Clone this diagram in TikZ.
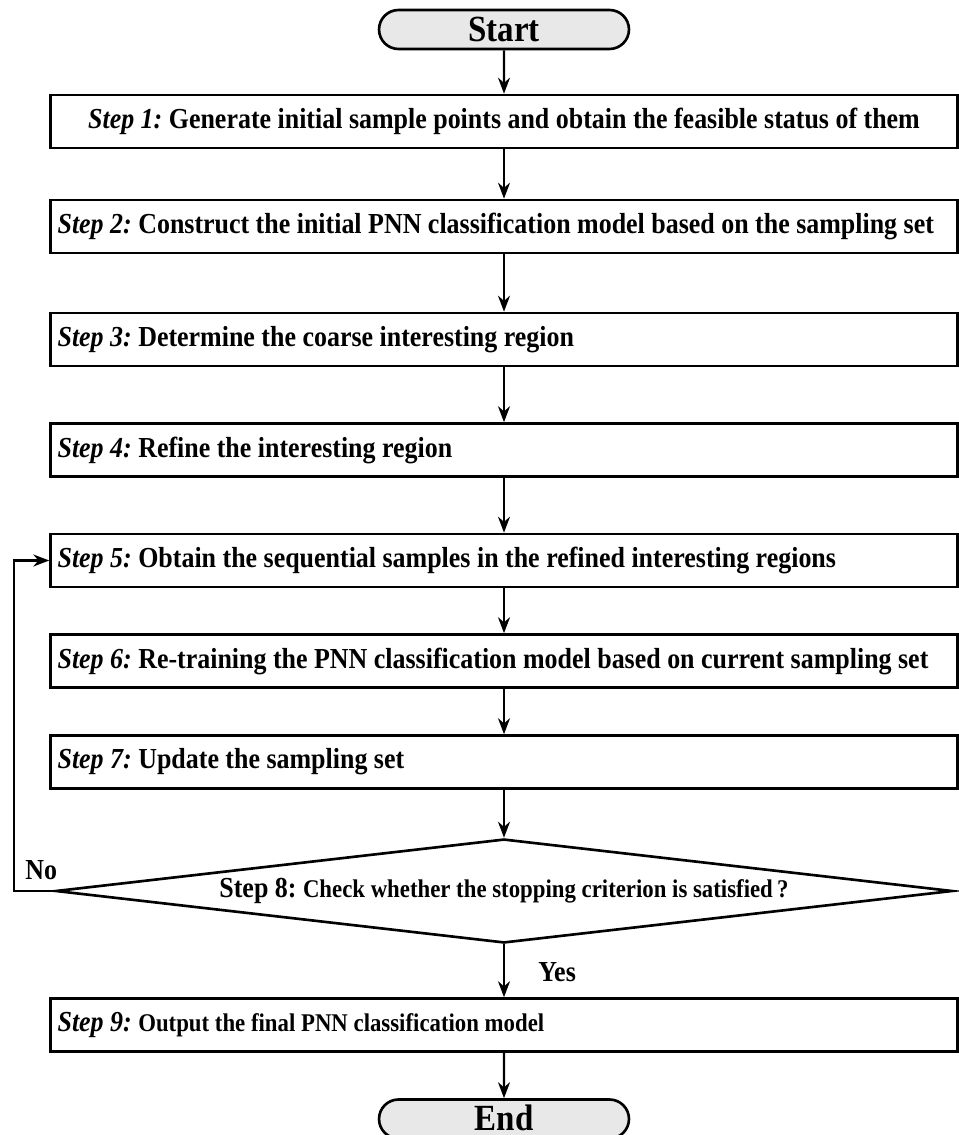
\documentclass[tikz,border=0pt]{standalone}
\usepackage{fontspec}
\setmainfont{Liberation Serif}[FakeStretch=0.895]
\frenchspacing
\usetikzlibrary{shapes.geometric,shapes.misc,arrows.meta}
\tikzstyle{stepbox}=[draw,line width=1.5pt,minimum width=18.14cm,minimum height=1.06cm,inner xsep=0.14cm,text width=17.86cm,align=flush left,font=\fontsize{16.5}{19}\selectfont\bfseries]
\tikzstyle{terminal}=[draw,line width=1.5pt,rounded rectangle,fill=gray!18,minimum width=5cm,minimum height=0.78cm,inner sep=0pt,font=\fontsize{21}{23}\selectfont\bfseries]
\tikzstyle{decision}=[draw,line width=1.5pt,diamond,aspect=8.6,minimum width=17.94cm,minimum height=2.08cm,inner sep=0pt,font=\fontsize{16.5}{19}\selectfont\bfseries]
\tikzstyle{answer}=[inner sep=0pt,font=\fontsize{16.5}{19}\selectfont\bfseries]
\tikzstyle{flow}=[-{Stealth[length=0.32cm,width=0.24cm]},line width=1.2pt]
\newcommand{\smalltxt}{\fontsize{14.5}{17}\selectfont}

\begin{document}
\begin{tikzpicture}[x=0.02cm,y=-0.02cm]
  \useasboundingbox (0,0) rectangle (958,1135);
  \node[terminal] (start) at (504,29.5) {Start};
  \node[stepbox,align=flush center] (s1) at (504,121.5) {\textit{Step 1:} Generate initial sample points and obtain the feasible status of them};
  \node[stepbox] (s2) at (504,226.5) {\textit{Step 2:} Construct the initial PNN classification model based on the sampling set};
  \node[stepbox] (s3) at (504,339.5) {\textit{Step 3:} Determine the coarse interesting region};
  \node[stepbox] (s4) at (504,450) {\textit{Step 4:} Refine the interesting region};
  \node[stepbox] (s5) at (504,560.5) {\textit{Step 5:} Obtain the sequential samples in the refined interesting regions};
  \node[stepbox] (s6) at (504,661) {\textit{Step 6:} Re-training the PNN classification model based on current sampling set};
  \node[stepbox] (s7) at (504,762) {\textit{Step 7:} Update the sampling set};
  \node[decision] (s8) at (504,891) {Step 8: {\smalltxt Check whether the stopping criterion is satisfied\,?}};
  \node[stepbox] (s9) at (504,1025) {\textit{Step 9:} {\smalltxt Output the final PNN classification model}};
  \node[terminal] (end) at (504,1119) {\raisebox{1pt}{End}};
  \coordinate (loop) at (14,891);
  \draw[flow] (start) -- (s1);
  \draw[flow] (s1) -- (s2);
  \draw[flow] (s2) -- (s3);
  \draw[flow] (s3) -- (s4);
  \draw[flow] (s4) -- (s5);
  \draw[flow] (s5) -- (s6);
  \draw[flow] (s6) -- (s7);
  \draw[flow] (s7) -- (s8);
  \draw[flow] (s8) -- (s9);
  \draw[flow] (s9) -- (end);
  \draw[flow] (s8.west) -- (loop) |- (s5.west);
  \node[answer,anchor=west] (no) at (25,870) {No};
  \node[answer,anchor=west] (yes) at (538,972) {Yes};
\end{tikzpicture}
\end{document}
